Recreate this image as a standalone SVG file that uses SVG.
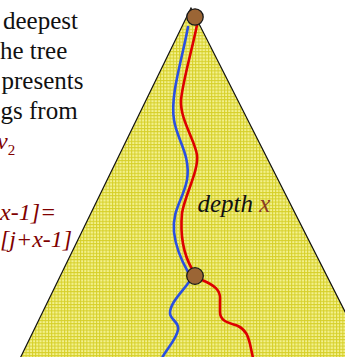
<svg xmlns="http://www.w3.org/2000/svg" width="345" height="357" viewBox="0 0 345 357">
<defs>
<pattern id="grid" patternUnits="userSpaceOnUse" width="3.2" height="3.2">
<rect width="3.2" height="3.2" fill="#f3f18e"/>
<path d="M0,0.5H3.2M0.5,0V3.2" stroke="#d6cf28" stroke-width="1" fill="none"/>
</pattern>
</defs>
<style>
.txt{font-family:"Liberation Serif","Times New Roman",serif;font-size:25px;fill:#111}
.red{font-family:"Liberation Serif","Times New Roman",serif;font-size:24px;font-style:italic;fill:#800000}
.node{fill:#9b6535;stroke:#1a1a1a;stroke-width:1.3}
.blue{fill:none;stroke:#2a4fe0;stroke-width:2.6;stroke-linecap:round}
.redp{fill:none;stroke:#dd0000;stroke-width:2.6;stroke-linecap:round}
</style>
<rect width="345" height="357" fill="#fff"/>
<g id="tree">
<polygon points="191,8 -10,420 400,420" fill="url(#grid)" stroke="#111" stroke-width="1.2"/>
</g>
<g id="text">
<text class="txt" x="3" y="29">deepest</text>
<text class="txt" x="0" y="59">he tree</text>
<text class="txt" x="1.5" y="89">presents</text>
<text class="txt" x="0.5" y="119">gs from</text>
<text class="red" x="-3" y="149">v<tspan font-style="normal" font-size="15" dy="6">2</tspan></text>
<text class="red" x="0" y="220">x-1]=</text>
<text class="red" x="0" y="247">[j+x-1]</text>
<text class="txt" x="197.5" y="212" font-style="italic" font-size="22">depth <tspan fill="#8a3b22">x</tspan></text>
</g>
<g id="connectors">
<path class="blue" d="M188,27 C182,60 170,95 174,120 C177,140 191,155 187,180 C183,200 172,210 174,232 C176,250 184,265 188,272"/>
<path class="blue" d="M189,282 C182,292 170,303 170,313 C170,320 180,322 178,330 C176,340 166,350 162,358"/>
<path class="redp" d="M197,25 C192,50 183,80 181,100 C180,120 195,140 197,155 C199,170 185,195 182,213 C180,235 184,255 192,269"/>
<path class="redp" d="M202,280 C214,285 221,290 220,300 L220,312 C220,322 230,323 238,326 C246,330 248,336 250,344 L253,358"/>
</g>
<g id="node-top">
<circle class="node" cx="195" cy="17" r="8.2"/>
</g>
<g id="node-depth">
<circle class="node" cx="195" cy="276" r="8.3"/>
</g>
</svg>
